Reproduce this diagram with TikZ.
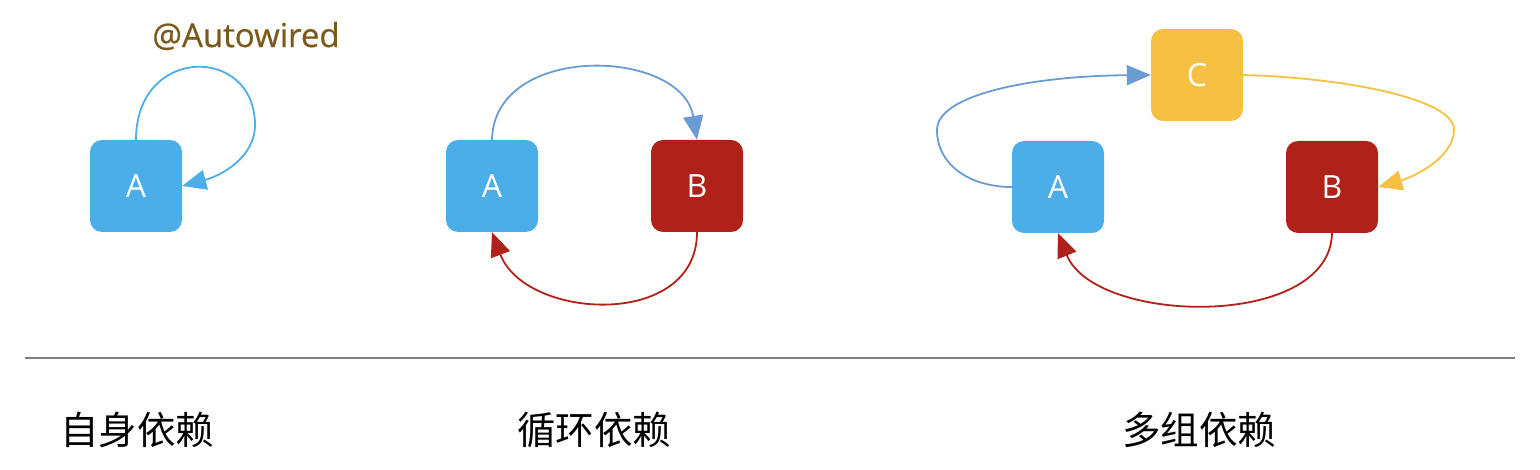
\documentclass[tikz,border=0pt]{standalone}
\usepackage{fontspec}
\setmainfont{Open Sans}
\newfontfamily\cjk{Noto Sans CJK SC}
\usetikzlibrary{arrows.meta}
\definecolor{boxblue}{HTML}{4BAEE8}
\definecolor{boxred}{HTML}{B0211A}
\definecolor{boxyellow}{HTML}{F6C142}
\definecolor{arrblue}{HTML}{6A9BD2}
\definecolor{autobrown}{HTML}{7A5A1A}
\definecolor{rulegray}{HTML}{808080}
\tikzset{
  box/.style={rounded corners=12pt, minimum width=92pt, minimum height=92pt, inner sep=0pt, text=white, font=\fontsize{32}{32}\selectfont},
  conn/.style={line width=1.8pt, -{Triangle[length=24pt,width=20pt]}},
  caption/.style={font=\cjk\fontsize{38.5}{38.5}\selectfont, text=black, inner sep=0pt}
}
\begin{document}
\begin{tikzpicture}[x=1pt,y=-1pt]
\useasboundingbox (0,0) rectangle (1540,470);
% self dependency
\node[box, fill=boxblue] (sa) at (136,186) {A};
\node[font=\addfontfeatures{FakeBold=0.6}\fontsize{33}{33}\selectfont, text=autobrown, inner sep=0pt] (aw) at (246,36) {@Autowired};
\draw[conn, boxblue] (sa.north) .. controls (136,45) and (255,45) .. (255,125)
  .. controls (255,158) and (220,176) .. (sa.east);
% circular dependency
\node[box, fill=boxblue] (ca) at (492,186) {A};
\node[box, fill=boxred] (cb) at (697,186) {B};
\draw[conn, arrblue] (ca.north) .. controls (494,42) and (682,48) .. (cb.north);
\draw[conn, boxred] (cb.south) .. controls (697,330) and (525,320) .. (ca.south);
% multiple dependency
\node[box, fill=boxyellow] (mc) at (1197,75) {C};
\node[box, fill=boxblue] (ma) at (1058,187) {A};
\node[box, fill=boxred] (mb) at (1332,187) {B};
\coordinate (ml) at (937,130);
\coordinate (mr) at (1454,130);
\draw[line width=1.8pt, arrblue] (ma.west) .. controls (970,187) and (937,165) .. (ml);
\draw[conn, arrblue] (ml) .. controls (937,95) and (1030,76) .. (mc.west);
\draw[line width=1.8pt, boxyellow] (mc.east) .. controls (1350,78) and (1455,100) .. (mr);
\draw[conn, boxyellow] (mr) .. controls (1453,160) and (1410,178) .. (mb.east);
\draw[conn, boxred] (mb.south) .. controls (1330,330) and (1095,325) .. (ma.south);
% rule
\coordinate (r1) at (25,358);
\coordinate (r2) at (1515,358);
\draw[rulegray, line width=1.5pt] (r1) -- (r2);
% captions
\node[caption] (t1) at (137,430) {自身依赖};
\node[caption] (t2) at (594,430) {循环依赖};
\node[caption] (t3) at (1199,430) {多组依赖};
\end{tikzpicture}
\end{document}
